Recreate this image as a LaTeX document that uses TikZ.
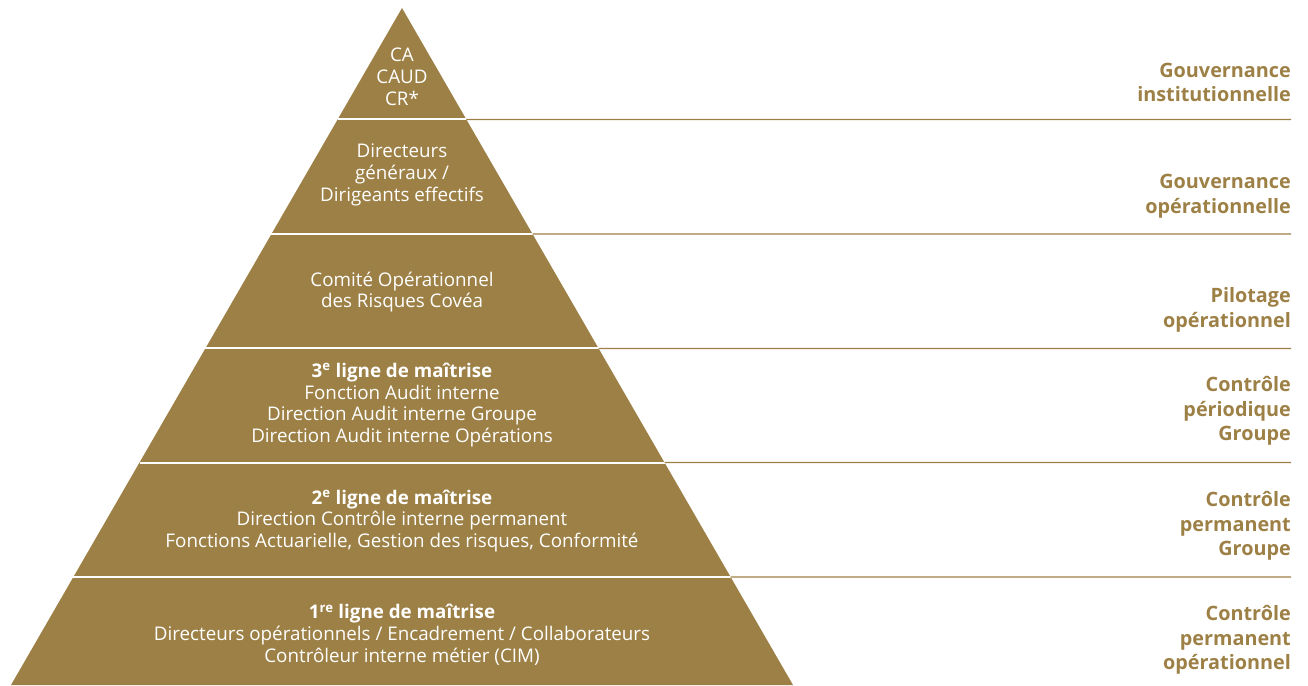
\documentclass[tikz,border=0pt]{standalone}
\usepackage{fontspec}
\setmainfont{Open Sans}
\usetikzlibrary{calc}

\definecolor{or}{RGB}{157,128,69}

\tikzset{
  niveau/.style={text=white, align=center, font=\fontsize{18.8}{21.8}\selectfont},
  role/.style={text=or, align=right, anchor=east, inner sep=0pt, font=\fontsize{19.8}{24.6}\selectfont\bfseries},
  sep/.style={white, line width=2pt},
  rule/.style={or, line width=1.2pt}
}

\begin{document}
\begin{tikzpicture}[x=1pt, y=-1pt]
\useasboundingbox (0,0) rectangle (1308,685);

% pyramide
\coordinate (apex) at (402,8);
\coordinate (bg) at (11,685);
\coordinate (bd) at (793,685);
\fill[or] (apex) -- (bd) -- (bg) -- cycle;

% separations entre niveaux + filets vers la droite
\foreach \y in {119.5,234,348.5,462.5,577} {
  \draw[sep] ($(apex)!{(\y-8)/677}!(bg)$) -- ($(apex)!{(\y-8)/677}!(bd)$);
  \draw[rule] ($(apex)!{(\y-8)/677}!(bd)$) -- (1291,\y);
}

% contenu des niveaux
\node[niveau] (ca) at (402,77) {CA\\CAUD\\CR*};
\node[niveau] (dg) at (402,175) {Directeurs\\généraux /\\Dirigeants effectifs};
\node[niveau] (comite) at (402,292) {Comité Opérationnel\\des Risques Covéa};
\node[niveau] (ligne3) at (402,405) {\textbf{3\textsuperscript{e} ligne de maîtrise}\\Fonction Audit interne\\Direction Audit interne Groupe\\Direction Audit interne Opérations};
\node[niveau] (ligne2) at (402,521) {\textbf{2\textsuperscript{e} ligne de maîtrise}\\Direction Contrôle interne permanent\\Fonctions Actuarielle, Gestion des risques, Conformité};
\node[niveau] (ligne1) at (402,635) {\textbf{1\textsuperscript{re} ligne de maîtrise}\\Directeurs opérationnels / Encadrement / Collaborateurs\\Contrôleur interne métier (CIM)};

% libelles a droite
\node[role] (gouvinst) at (1291,82.5) {Gouvernance\\institutionnelle};
\node[role] (gouvop) at (1291,196) {Gouvernance\\opérationnelle};
\node[role] (pilotage) at (1291,310) {Pilotage\\opérationnel};
\node[role] (ctrlper) at (1291,411) {Contrôle\\périodique\\Groupe};
\node[role] (ctrlgrp) at (1291,526) {Contrôle\\permanent\\Groupe};
\node[role] (ctrlop) at (1291,640) {Contrôle\\permanent\\opérationnel};
\end{tikzpicture}
\end{document}
